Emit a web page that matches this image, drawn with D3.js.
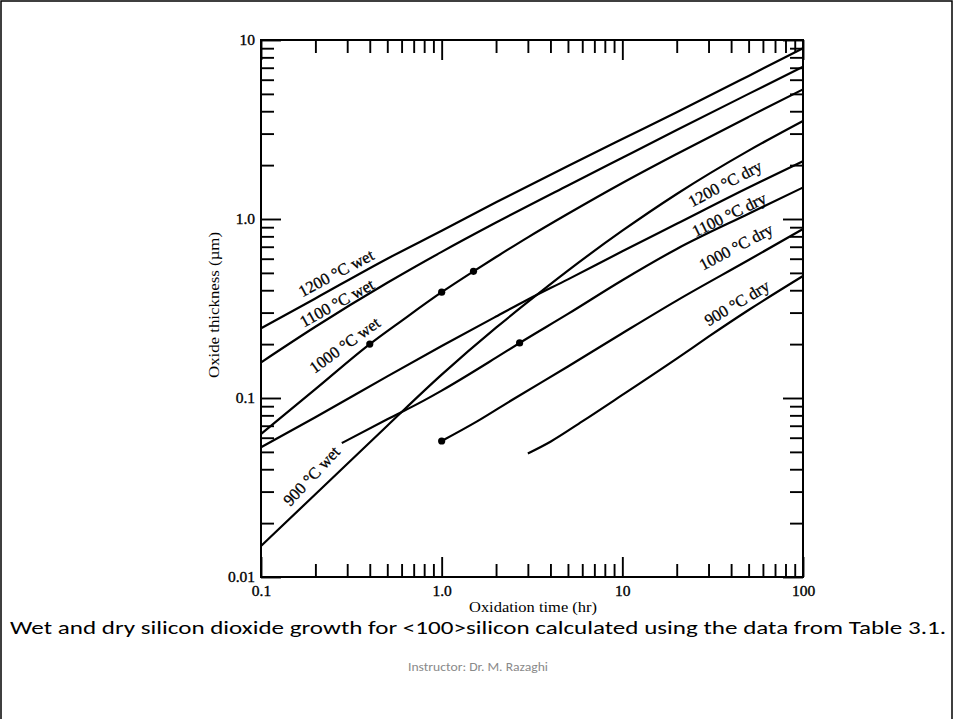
<!DOCTYPE html>
<html>
<head>
<meta charset="utf-8">
<script src="https://cdn.jsdelivr.net/npm/d3@7"></script>
<style>
  html, body { margin: 0; padding: 0; background: #fff; }
  svg { display: block; }
</style>
</head>
<body>
<svg id="chart" width="954" height="719"></svg>
<script>
// ---------- data ----------
const xTickValues = [0.1, 1, 10, 100];
const xTickLabels = ["0.1", "1.0", "10", "100"];
const yTickValues = [0.01, 0.1, 1, 10];
const yTickLabels = ["0.01", "0.1", "1.0", "10"];

const wet1200T = [0.1, 0.2, 0.5, 1, 2, 5, 10, 20, 50, 100];
const wet1200V = [0.245, 0.36, 0.6, 0.86, 1.24, 1.98, 2.8, 3.95, 6.3, 9.0];

const wet1100T = [0.1, 0.2, 0.5, 1, 2, 5, 10, 20, 50, 100];
const wet1100V = [0.158, 0.25, 0.44, 0.655, 0.955, 1.54, 2.2, 3.14, 5.0, 7.1];

const wet1000T = [0.1, 0.2, 0.4, 0.6, 1, 1.5, 2, 3, 5, 10, 20, 50, 100];
const wet1000V = [0.063, 0.112, 0.2, 0.27, 0.39, 0.51, 0.613, 0.79, 1.07, 1.59, 2.31, 3.72, 5.3];

const wet900T = [0.1, 0.2, 0.5, 1, 2, 3, 5, 10, 20, 50, 100];
const wet900V = [0.0149, 0.029, 0.07, 0.135, 0.247, 0.344, 0.515, 0.86, 1.38, 2.41, 3.53];

const dry1200T = [0.1, 0.2, 0.5, 1, 2, 3, 5, 10, 20, 50, 100];
const dry1200V = [0.053, 0.078, 0.132, 0.195, 0.285, 0.355, 0.46, 0.66, 0.94, 1.5, 2.1];

const dry1100T = [0.28, 0.5, 0.8, 1, 2, 2.7, 5, 10, 20, 50, 100];
const dry1100V = [0.056, 0.076, 0.097, 0.11, 0.168, 0.203, 0.295, 0.455, 0.68, 1.07, 1.5];

const dry1000T = [1, 1.57, 2.45, 5, 10, 20, 50, 100];
const dry1000V = [0.0575, 0.074, 0.0975, 0.15, 0.23, 0.35, 0.59, 0.88];

const dry900T = [3, 4, 6, 10, 20, 30, 50, 100];
const dry900V = [0.049, 0.057, 0.074, 0.104, 0.166, 0.22, 0.31, 0.48];

const dotT = [0.4, 1, 1.5, 2.7, 1];
const dotV = [0.2, 0.39, 0.51, 0.203, 0.0575];

const seriesNames = ["1200 °C wet", "1100 °C wet", "1000 °C wet", "900 °C wet",
                     "1200 °C dry", "1100 °C dry", "1000 °C dry", "900 °C dry"];
const seriesT = [wet1200T, wet1100T, wet1000T, wet900T, dry1200T, dry1100T, dry1000T, dry900T];
const seriesV = [wet1200V, wet1100V, wet1000V, wet900V, dry1200V, dry1100V, dry1000V, dry900V];

// label anchor in data coordinates (hours, µm) and rotation
const labelT = [0.26, 0.263, 0.29, 0.19, 37, 39, 42.5, 43];
const labelV = [0.5, 0.34, 0.198, 0.0367, 1.58, 1.06, 0.7, 0.34];
const labelAngle = [-28, -29, -36, -47, -28, -26, -28, -31];

const xTitle = "Oxidation time (hr)";
const yTitle = "Oxide thickness (µm)";
const caption = "Wet and dry silicon dioxide growth for <100>silicon calculated using the data from Table 3.1.";
const footer = "Instructor: Dr. M. Razaghi";

// ---------- drawing ----------
const svg = d3.select("#chart");
const serif = "'Liberation Serif', 'Times New Roman', serif";

svg.append("rect").attr("x", 0).attr("y", 0).attr("width", 954).attr("height", 719).attr("fill", "#fff");
// slide border (top, left, right)
svg.append("path")
  .attr("d", "M1,719 L1,1 L952,1 L952,719")
  .attr("fill", "none").attr("stroke", "#000").attr("stroke-width", 1.5);

const x = d3.scaleLog().domain([0.1, 100]).range([261, 803]);
const y = d3.scaleLog().domain([0.01, 10]).range([577, 40]);

const minorX = x.ticks().filter(v => !xTickValues.some(m => Math.abs(m - v) / m < 1e-9));
const minorY = y.ticks().filter(v => !yTickValues.some(m => Math.abs(m - v) / m < 1e-9));

function styleAxis(g) {
  g.select(".domain").remove();
  g.selectAll(".tick line").attr("stroke", "#000").attr("stroke-width", 1.9);
  g.selectAll(".tick text")
    .attr("font-family", serif).attr("font-size", 15.5).attr("fill", "#000")
    .attr("stroke", "#000").attr("stroke-width", 0.35);
}

const fmtX = (d) => xTickLabels[xTickValues.findIndex(m => Math.abs(m - d) / m < 1e-9)];
const fmtY = (d) => yTickLabels[yTickValues.findIndex(m => Math.abs(m - d) / m < 1e-9)];

// bottom
svg.append("g").attr("transform", "translate(0,577)")
  .call(d3.axisBottom(x).tickValues(minorX).tickSizeInner(-13).tickSizeOuter(0).tickFormat(""))
  .call(styleAxis);
svg.append("g").attr("transform", "translate(0,577)")
  .call(d3.axisBottom(x).tickValues(xTickValues).tickSizeInner(-20).tickSizeOuter(0).tickPadding(19).tickFormat(fmtX))
  .call(styleAxis)
  .call(g => g.selectAll(".tick text").attr("dy", "0"));
// top
svg.append("g").attr("transform", "translate(0,40)")
  .call(d3.axisTop(x).tickValues(minorX).tickSizeInner(-13).tickSizeOuter(0).tickFormat(""))
  .call(styleAxis);
svg.append("g").attr("transform", "translate(0,40)")
  .call(d3.axisTop(x).tickValues(xTickValues).tickSizeInner(-20).tickSizeOuter(0).tickFormat(""))
  .call(styleAxis);
// left
svg.append("g").attr("transform", "translate(261,0)")
  .call(d3.axisLeft(y).tickValues(minorY).tickSizeInner(-13).tickSizeOuter(0).tickFormat(""))
  .call(styleAxis);
svg.append("g").attr("transform", "translate(261,0)")
  .call(d3.axisLeft(y).tickValues(yTickValues).tickSizeInner(-20).tickSizeOuter(0).tickPadding(6).tickFormat(fmtY))
  .call(styleAxis);
// right
svg.append("g").attr("transform", "translate(803,0)")
  .call(d3.axisRight(y).tickValues(minorY).tickSizeInner(-13).tickSizeOuter(0).tickFormat(""))
  .call(styleAxis);
svg.append("g").attr("transform", "translate(803,0)")
  .call(d3.axisRight(y).tickValues(yTickValues).tickSizeInner(-20).tickSizeOuter(0).tickFormat(""))
  .call(styleAxis);

// frame
svg.append("rect")
  .attr("x", x(0.1)).attr("y", y(10))
  .attr("width", x(100) - x(0.1)).attr("height", y(0.01) - y(10))
  .attr("fill", "none").attr("stroke", "#000").attr("stroke-width", 2);

// curves
const line = d3.line().x(d => x(d[0])).y(d => y(d[1])).curve(d3.curveMonotoneX);
const curveG = svg.append("g");
seriesT.forEach((ts, i) => {
  const pts = ts.map((t, j) => [t, seriesV[i][j]]);
  curveG.append("path")
    .attr("d", line(pts))
    .attr("fill", "none")
    .attr("stroke", "#000")
    .attr("stroke-width", 2.2)
    .attr("stroke-linecap", "butt");
});

// dots
svg.append("g").selectAll("circle")
  .data(dotT.map((t, i) => [t, dotV[i]]))
  .join("circle")
  .attr("cx", d => x(d[0])).attr("cy", d => y(d[1])).attr("r", 3.6).attr("fill", "#000");

// curve labels
svg.append("g").selectAll("text")
  .data(seriesNames)
  .join("text")
  .attr("transform", (d, i) => `translate(${x(labelT[i])},${y(labelV[i])}) rotate(${labelAngle[i]})`)
  .attr("text-anchor", "middle")
  .attr("dy", "0.35em")
  .attr("font-family", serif)
  .attr("font-size", 16.5)
  .attr("fill", "#000")
  .attr("stroke", "#000").attr("stroke-width", 0.3)
  .text(d => d);

// axis titles
svg.append("text")
  .attr("x", 533).attr("y", 612)
  .attr("text-anchor", "middle")
  .attr("font-family", serif).attr("font-size", 14)
  .attr("textLength", 128).attr("lengthAdjust", "spacingAndGlyphs")
  .text(xTitle);
svg.append("text")
  .attr("transform", "translate(219,305) rotate(-90)")
  .attr("text-anchor", "middle")
  .attr("font-family", serif).attr("font-size", 15)
  .attr("textLength", 146).attr("lengthAdjust", "spacingAndGlyphs")
  .text(yTitle);

// caption and footer
svg.append("text")
  .attr("x", 478).attr("y", 634)
  .attr("text-anchor", "middle")
  .attr("font-family", "Carlito, Calibri, 'Liberation Sans Narrow', 'Liberation Sans', sans-serif").attr("font-size", 18)
  .attr("textLength", 936).attr("lengthAdjust", "spacingAndGlyphs")
  .attr("fill", "#000")
  .text(caption);
svg.append("text")
  .attr("x", 478).attr("y", 671)
  .attr("text-anchor", "middle")
  .attr("font-family", "Carlito, Calibri, 'Liberation Sans Narrow', 'Liberation Sans', sans-serif").attr("font-size", 12)
  .attr("textLength", 140).attr("lengthAdjust", "spacingAndGlyphs")
  .attr("fill", "#8a8a8a")
  .text(footer);
</script>
</body>
</html>
